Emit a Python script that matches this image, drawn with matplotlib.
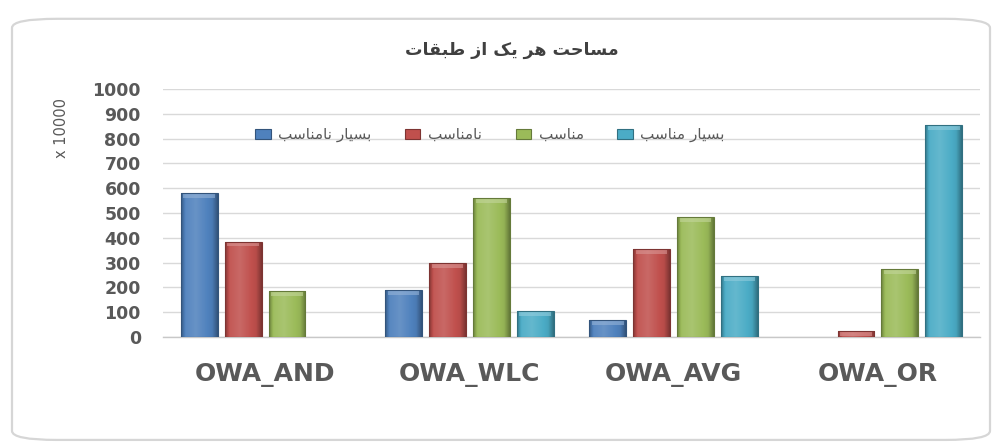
import matplotlib
matplotlib.use("Agg")
import matplotlib.pyplot as plt
import numpy as np
from matplotlib.patches import FancyBboxPatch, Patch
from matplotlib.font_manager import FontProperties

categories = ["OWA_AND", "OWA_WLC", "OWA_AVG", "OWA_OR"]
series_names = ["بسیار نامناسب", "نامناسب", "مناسب", "بسیار مناسب"]
very_unsuitable = [580, 190, 70, 0]
unsuitable = [385, 300, 355, 25]
suitable = [185, 560, 485, 275]
very_suitable = [0, 105, 245, 855]
yticks = [0, 100, 200, 300, 400, 500, 600, 700, 800, 900, 1000]
title_text = "مساحت هر یک از طبقات"
unit_text = "x 10000"

colors = ["#4f81bd", "#c0504d", "#9bbb59", "#4bacc6"]

# ---- minimal Arabic/Persian shaping ----
FORMS = {
    'ا': ('\uFE8D', '\uFE8E', None, None),
    'ب': ('\uFE8F', '\uFE90', '\uFE91', '\uFE92'),
    'ت': ('\uFE95', '\uFE96', '\uFE97', '\uFE98'),
    'ح': ('\uFEA1', '\uFEA2', '\uFEA3', '\uFEA4'),
    'ر': ('\uFEAD', '\uFEAE', None, None),
    'ز': ('\uFEAF', '\uFEB0', None, None),
    'س': ('\uFEB1', '\uFEB2', '\uFEB3', '\uFEB4'),
    'ط': ('\uFEC1', '\uFEC2', '\uFEC3', '\uFEC4'),
    'ق': ('\uFED5', '\uFED6', '\uFED7', '\uFED8'),
    'م': ('\uFEE1', '\uFEE2', '\uFEE3', '\uFEE4'),
    'ن': ('\uFEE5', '\uFEE6', '\uFEE7', '\uFEE8'),
    'ه': ('\uFEE9', '\uFEEA', '\uFEEB', '\uFEEC'),
    'ی': ('\uFBFC', '\uFBFD', '\uFEF3', '\uFEF4'),
    'ک': ('\uFB8E', '\uFB8F', '\uFB90', '\uFB91'),
}


def dual(c):
    return c in FORMS and FORMS[c][2] is not None


def shape(s):
    out = []
    for i, c in enumerate(s):
        if c not in FORMS:
            out.append(c)
            continue
        prev = s[i - 1] if i > 0 else ''
        nxt = s[i + 1] if i + 1 < len(s) else ''
        jp = dual(prev)
        jn = dual(c) and nxt in FORMS
        iso, fin, ini, med = FORMS[c]
        if jp and jn:
            out.append(med)
        elif jp:
            out.append(fin)
        elif jn:
            out.append(ini)
        else:
            out.append(iso)
    return ''.join(out)[::-1]


fam = ['DejaVu Sans']

fig = plt.figure(figsize=(10, 4.48), dpi=100)
fig.patch.set_facecolor('white')

# outer rounded frame
frame = FancyBboxPatch((0.012, 0.018), 0.978, 0.94,
                       boxstyle="round,pad=0,rounding_size=0.045",
                       transform=fig.transFigure, facecolor='white',
                       edgecolor='#d6d6d6', linewidth=1.6, mutation_aspect=448/1000,
                       zorder=-10)
fig.patches.append(frame)

ax = fig.add_axes([0.163, 0.2478, 0.817, 0.5536])
ax.set_facecolor('none')
ax.set_zorder(1)

series = [very_unsuitable, unsuitable, suitable, very_suitable]
x = np.arange(len(categories))
step = 0.215
width = 0.18
offsets = (np.arange(4) - 1.5) * step


def shade(col, factor):
    c = np.array(matplotlib.colors.to_rgb(col))
    if factor >= 0:
        return c + (1 - c) * factor
    return c * (1 + factor)


grad_x = np.linspace(0, 1, 64)
for si, vals in enumerate(series):
    bars = ax.bar(x + offsets[si], vals, width=width, color=colors[si],
                  edgecolor='none', linewidth=0, zorder=3)
    prof = np.interp(grad_x, [0, 0.12, 0.4, 0.85, 1.0], [-0.3, 0.05, 0.14, -0.05, -0.35])
    img = np.array([shade(colors[si], f) for f in prof])[None, :, :]
    for b, v in zip(bars, vals):
        if v <= 0:
            continue
        x0, w = b.get_x(), b.get_width()
        im = ax.imshow(img, extent=(x0, x0 + w, 0, v), aspect='auto',
                       zorder=3.5, interpolation='bilinear')
        im.set_clip_path(b)
        bevel_h = min(20, v)
        ax.bar(x0 + w / 2, bevel_h, bottom=v - bevel_h, width=w * 0.86,
               color=shade(colors[si], 0.4), alpha=0.6, linewidth=0, zorder=3.6)
        ax.bar(x0 + w / 2, v, width=w, facecolor='none',
               edgecolor=shade(colors[si], -0.35), linewidth=0.8, zorder=3.7)

ax.set_xlim(-0.5, len(categories) - 0.5)
ax.set_ylim(0, 1000)
ax.set_yticks(yticks)
ax.set_yticklabels([str(t) for t in yticks])
ax.yaxis.grid(True, color='#d9d9d9', linewidth=1.0, zorder=0)
ax.set_axisbelow(True)
for sp in ['top', 'right', 'left']:
    ax.spines[sp].set_visible(False)
ax.spines['bottom'].set_color('#c8c8c8')
ax.spines['bottom'].set_linewidth(1.0)
ax.tick_params(axis='y', length=0, pad=16, labelsize=12.5, labelcolor='#595959')
ax.tick_params(axis='x', length=0, pad=19, labelsize=18, labelcolor='#595959')
for lab in ax.get_yticklabels():
    lab.set_fontweight('bold')
ax.set_xticks(x)
ax.set_xticklabels(categories, fontweight='bold')

fig.text(0.062, 0.715, unit_text, rotation=90, ha='center', va='center',
         fontsize=10.5, color='#595959')

fig.text(0.512, 0.888, shape(title_text), ha='center', va='center',
         fontsize=12.5, fontweight='bold', color='#404040', family=fam)

handles = [Patch(facecolor=c, edgecolor=shade(c, -0.35), linewidth=0.8) for c in colors]
leg = fig.legend(handles, [shape(s) for s in series_names], ncol=4,
                 loc='center', bbox_to_anchor=(0.49, 0.699), frameon=False,
                 handlelength=1.0, handleheight=0.7, handletextpad=0.5,
                 columnspacing=2.2, prop=FontProperties(family=fam, size=11))
leg.set_zorder(5)
for t in leg.get_texts():
    t.set_color('#595959')

fig.savefig('out.png', dpi=100)
